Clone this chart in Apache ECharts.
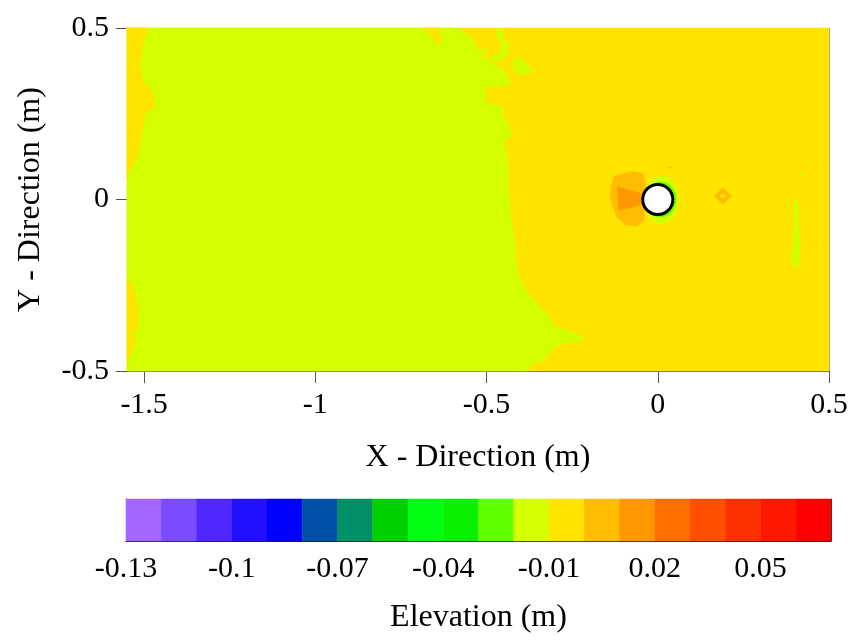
<!DOCTYPE html>
<html>
<head>
<meta charset="utf-8">
<script src="https://cdn.jsdelivr.net/npm/echarts@6/dist/echarts.min.js"></script>
<style>
html, body { margin: 0; padding: 0; background: #fff; }
#chart { width: 861px; height: 640px; }
</style>
</head>
<body>
<div id="chart"></div>
<script>
// elevation scale (m): 20 bins of 0.01
var binEdges = [-0.13, -0.12, -0.11, -0.1, -0.09, -0.08, -0.07, -0.06, -0.05, -0.04, -0.03,
                -0.02, -0.01, 0, 0.01, 0.02, 0.03, 0.04, 0.05, 0.06, 0.07];
var binColors = ['#a566ff', '#7a4cff', '#5028ff', '#2010ff', '#0000ff', '#0050aa', '#009068',
                 '#00d000', '#00ff10', '#08f000', '#60ff00', '#d4ff00', '#ffe400', '#ffbc00',
                 '#ff9800', '#ff7000', '#ff5000', '#ff3000', '#ff1800', '#ff0000'];
var barTicks = [-0.13, -0.1, -0.07, -0.04, -0.01, 0.02, 0.05];
var xTicks = [-1.5, -1, -0.5, 0, 0.5];
var yTicks = [-0.5, 0, 0.5];

// contour patches, x/y in metres
var domainBox = [[-1.55, 0.5], [0.5, 0.5], [0.5, -0.5], [-1.55, -0.5]];
var upstreamZone = [[-1.55, 0.5], [-0.582, 0.5], [-0.547, 0.472], [-0.523, 0.437], [-0.506, 0.413],
  [-0.488, 0.399], [-0.459, 0.384], [-0.442, 0.364], [-0.430, 0.337], [-0.459, 0.331],
  [-0.509, 0.329], [-0.497, 0.299], [-0.509, 0.285], [-0.450, 0.267], [-0.459, 0.253],
  [-0.439, 0.223], [-0.424, 0.188], [-0.450, 0.174], [-0.439, 0.115], [-0.436, 0.037],
  [-0.430, -0.039], [-0.421, -0.098], [-0.409, -0.215], [-0.380, -0.273], [-0.342, -0.314],
  [-0.322, -0.331], [-0.304, -0.372], [-0.263, -0.381], [-0.216, -0.402], [-0.225, -0.416],
  [-0.275, -0.419], [-0.304, -0.431], [-0.333, -0.469], [-0.363, -0.478], [-0.380, -0.5],
  [-1.55, -0.5]];
var inletStripTop = [[-1.55, 0.5], [-1.488, 0.5], [-1.503, 0.457], [-1.512, 0.387], [-1.503, 0.340],
  [-1.477, 0.320], [-1.468, 0.270], [-1.497, 0.253], [-1.506, 0.194], [-1.520, 0.124],
  [-1.535, 0.095], [-1.547, 0.077], [-1.55, 0.057]];
var inletStripBottom = [[-1.55, -0.235], [-1.535, -0.244], [-1.526, -0.273], [-1.520, -0.314],
  [-1.518, -0.372], [-1.532, -0.390], [-1.526, -0.410], [-1.535, -0.440], [-1.547, -0.469],
  [-1.55, -0.483]];
var topNotch = [[-0.684, 0.5], [-0.664, 0.478], [-0.643, 0.451], [-0.632, 0.460], [-0.640, 0.5]];
var islandA = [[-0.474, 0.498], [-0.454, 0.496], [-0.453, 0.480], [-0.457, 0.469], [-0.442, 0.463],
  [-0.435, 0.449], [-0.438, 0.427], [-0.449, 0.412], [-0.469, 0.404], [-0.488, 0.402],
  [-0.493, 0.412], [-0.483, 0.420], [-0.464, 0.424], [-0.457, 0.437], [-0.454, 0.453],
  [-0.463, 0.463], [-0.471, 0.478]];
var islandB = [[-0.507, 0.443], [-0.498, 0.434], [-0.506, 0.424], [-0.515, 0.434]];
var islandC = [[-0.420, 0.412], [-0.406, 0.414], [-0.386, 0.398], [-0.362, 0.373], [-0.381, 0.369],
  [-0.410, 0.364], [-0.422, 0.378]];
var scourFront = [[-0.139, 0.008], [-0.137, 0.037], [-0.128, 0.067], [-0.079, 0.081], [-0.045, 0.077],
  [-0.035, 0.047], [-0.040, 0.018], [-0.040, -0.021], [-0.040, -0.060], [-0.059, -0.077],
  [-0.089, -0.074], [-0.118, -0.055], [-0.132, -0.021]];
var scourCore = [[-0.118, 0.037], [-0.050, 0.018], [-0.050, -0.016], [-0.113, -0.031]];
var diamondOuter = [[0.165, 0.010], [0.190, 0.034], [0.215, 0.010], [0.190, -0.014]];
var diamondInner = [[0.183, 0.010], [0.190, 0.017], [0.197, 0.010], [0.190, 0.003]];
var speckOrange = [[0.032, 0.093], [0.036, 0.097], [0.040, 0.093], [0.036, 0.089]];
var wakeStrip = [[0.399, -0.006], [0.406, -0.001], [0.410, -0.021], [0.410, -0.060], [0.416, -0.118],
  [0.414, -0.186], [0.404, -0.201], [0.391, -0.186], [0.394, -0.138], [0.399, -0.079],
  [0.397, -0.040]];
var wakeSpot = [[0.414, 0.072], [0.418, 0.076], [0.422, 0.072], [0.418, 0.068]];

// rings round the pier: [cx, cy, rx, ry, elevation]
var pierRings = [[0.011, -0.001, 0.051, 0.070, -0.015], [0.008, 0.0, 0.046, 0.052, -0.025]];
var pier = [[0, 0, 0.044]];

var patches = [
  [-0.005, domainBox], [-0.015, upstreamZone], [-0.005, inletStripTop], [-0.005, inletStripBottom],
  [-0.005, topNotch], [-0.015, islandA], [-0.015, islandB], [-0.015, islandC],
  [0.005, scourFront], [0.015, scourCore], [0.005, diamondOuter], [-0.005, diamondInner],
  [0.005, speckOrange], [-0.015, wakeStrip], [-0.015, wakeSpot]
];

function colorOf(z) {
  for (var i = 0; i < binColors.length; i++) {
    if (z >= binEdges[i] && z < binEdges[i + 1]) return binColors[i];
  }
  return binColors[binColors.length - 1];
}

var serif = 'Liberation Serif';
var chart = echarts.init(document.getElementById('chart'));

var option = {
  animation: false,
  backgroundColor: '#fff',
  grid: [
    { left: 127, top: 28, width: 702, height: 343 },
    { left: 126, top: 499, width: 705, height: 42 }
  ],
  xAxis: [
    {
      type: 'value', gridIndex: 0, position: 'bottom', min: -1.55, max: 0.5,
      name: 'X - Direction (m)', nameLocation: 'middle', nameGap: 71,
      nameTextStyle: { fontFamily: serif, fontSize: 32, color: '#000' },
      axisLine: { onZero: false, lineStyle: { color: '#555', width: 1 } },
      axisTick: { length: 12, customValues: xTicks, lineStyle: { color: '#555' } },
      axisLabel: { customValues: xTicks, margin: 19, fontFamily: serif, fontSize: 30, color: '#000' },
      splitLine: { show: false }
    },
    {
      type: 'value', gridIndex: 0, position: 'top', min: -1.55, max: 0.5,
      axisLine: { onZero: false, lineStyle: { color: '#999' } },
      axisTick: { show: false }, axisLabel: { show: false }, splitLine: { show: false }
    },
    {
      type: 'value', gridIndex: 1, position: 'bottom', min: -0.13, max: 0.07,
      name: 'Elevation (m)', nameLocation: 'middle', nameGap: 61,
      nameTextStyle: { fontFamily: serif, fontSize: 32, color: '#000' },
      axisLine: { onZero: false, lineStyle: { color: '#222' } },
      axisTick: { show: false },
      axisLabel: { customValues: barTicks, margin: 13, fontFamily: serif, fontSize: 30, color: '#000' },
      splitLine: { show: false }
    },
    {
      type: 'value', gridIndex: 1, position: 'top', min: -0.13, max: 0.07,
      axisLine: { onZero: false, lineStyle: { color: '#888' } },
      axisTick: { show: false }, axisLabel: { show: false }, splitLine: { show: false }
    }
  ],
  yAxis: [
    {
      type: 'value', gridIndex: 0, position: 'left', min: -0.5, max: 0.5,
      name: 'Y - Direction (m)', nameLocation: 'middle', nameGap: 80,
      nameTextStyle: { fontFamily: serif, fontSize: 32, color: '#000' },
      axisLine: { onZero: false, lineStyle: { color: '#555' } },
      axisTick: { length: 11, customValues: yTicks, lineStyle: { color: '#555' } },
      axisLabel: { customValues: yTicks, margin: 18, fontFamily: serif, fontSize: 30, color: '#000' },
      splitLine: { show: false }
    },
    {
      type: 'value', gridIndex: 0, position: 'right', min: -0.5, max: 0.5,
      axisLine: { onZero: false, lineStyle: { color: '#999' } },
      axisTick: { show: false }, axisLabel: { show: false }, splitLine: { show: false }
    },
    {
      type: 'value', gridIndex: 1, position: 'left', min: 0, max: 1,
      axisLine: { onZero: false, lineStyle: { color: '#333' } },
      axisTick: { show: false }, axisLabel: { show: false }, splitLine: { show: false }
    },
    {
      type: 'value', gridIndex: 1, position: 'right', min: 0, max: 1,
      axisLine: { onZero: false, lineStyle: { color: '#333' } },
      axisTick: { show: false }, axisLabel: { show: false }, splitLine: { show: false }
    }
  ],
  series: [
    {
      // contour fill
      type: 'custom', xAxisIndex: 0, yAxisIndex: 0, z: 1,
      data: patches.map(function (p) { return p[1][0]; }),
      renderItem: function (params, api) {
        var p = patches[params.dataIndex];
        var c = colorOf(p[0]);
        return {
          type: 'polygon',
          shape: { points: p[1].map(function (pt) { return api.coord(pt); }) },
          style: { fill: c, stroke: c, lineWidth: 0.6 }
        };
      }
    },
    {
      type: 'custom', xAxisIndex: 0, yAxisIndex: 0, z: 2,
      data: pierRings,
      renderItem: function (params, api) {
        var r = pierRings[params.dataIndex];
        var ctr = api.coord([r[0], r[1]]);
        var s = api.size([r[2], r[3]]);
        return {
          type: 'ellipse',
          shape: { cx: ctr[0], cy: ctr[1], rx: s[0], ry: s[1] },
          style: { fill: colorOf(r[4]) }
        };
      }
    },
    {
      // pier
      type: 'custom', xAxisIndex: 0, yAxisIndex: 0, z: 3,
      data: pier,
      renderItem: function (params, api) {
        var ctr = api.coord([api.value(0), api.value(1)]);
        var rad = api.size([api.value(2), 0])[0];
        return {
          type: 'circle',
          shape: { cx: ctr[0], cy: ctr[1], r: rad },
          style: { fill: '#fff', stroke: '#000', lineWidth: 3 }
        };
      }
    },
    {
      // colour bar
      type: 'custom', xAxisIndex: 2, yAxisIndex: 2, z: 1,
      data: binColors.map(function (c, i) { return [binEdges[i], binEdges[i + 1], 0.5]; }),
      encode: { x: [0, 1], y: 2 },
      renderItem: function (params, api) {
        var a = api.coord([api.value(0), 1]);
        var b = api.coord([api.value(1), 0]);
        var c = binColors[params.dataIndex];
        return {
          type: 'rect',
          shape: { x: a[0], y: a[1], width: b[0] - a[0], height: b[1] - a[1] },
          style: { fill: c, stroke: c, lineWidth: 0.5 }
        };
      }
    }
  ]
};
chart.setOption(option);
</script>
</body>
</html>
